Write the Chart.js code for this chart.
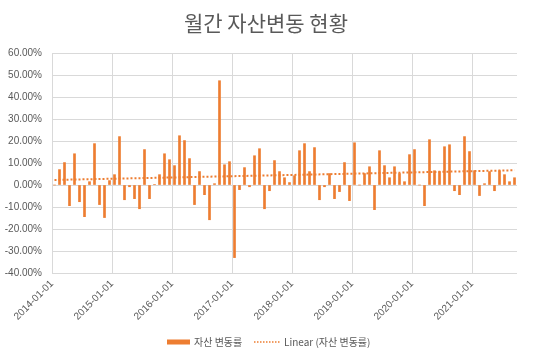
<!DOCTYPE html>
<html>
<head>
<meta charset="utf-8">
<script src="https://cdn.jsdelivr.net/npm/chart.js@4"></script>
<style>
html,body{margin:0;padding:0;background:#fff;}
#wrap{width:534px;height:355px;position:relative;}
</style>
</head>
<body>
<div id="wrap"><canvas id="c" width="534" height="355"></canvas></div>
<script>
const title = '월간 자산변동 현황';
const seriesName = '자산 변동률';
const trendName = 'Linear (자산 변동률)';
const startYear = 2014;
const yearTickLabels = ['2014-01-01','2015-01-01','2016-01-01','2017-01-01','2018-01-01','2019-01-01','2020-01-01','2021-01-01'];
const yTickValues = [-40,-30,-20,-10,0,10,20,30,40,50,60];
// monthly change (%) from 2014-01 to 2021-09
const values2014 = [0, 7.0, 10.2, -9.4, 14.2, -7.6, -14.4, 1.5, 18.8, -8.9, -14.8, 2.0];
const values2015 = [4.7, 22.0, -6.7, -0.8, -6.2, -10.8, 16.1, -6.2, 0.2, 4.7, 14.2, 11.5];
const values2016 = [8.8, 22.4, 20.2, 12.0, -8.9, 6.1, -4.4, -15.8, 0.6, 47.4, 9.2, 10.6];
const values2017 = [-33.0, -2.1, 7.9, -0.8, 13.3, 16.5, -10.8, -2.6, 11.1, 6.1, 3.3, 1.1];
const values2018 = [4.2, 15.6, 18.8, 6.1, 17.0, -6.7, -0.8, 5.2, -6.2, -3.0, 10.2, -7.1];
const values2019 = [19.2, 0, 5.2, 8.3, -11.2, 15.6, 8.8, 3.3, 8.3, 5.2, 1.5, 13.8];
const values2020 = [16.1, 0, -9.4, 20.6, 6.5, 6.1, 17.4, 18.3, -2.6, -4.4, 22.0, 15.2];
const values2021 = [6.5, -4.8, 0.6, 6.1, -2.6, 6.5, 4.7, 1.5, 3.3];

const values = [].concat(values2014, values2015, values2016, values2017, values2018, values2019, values2020, values2021);
const barPoints = values.map((v, i) => ({x: i + 0.5, y: v}));

// least-squares linear trend over the series
const n = values.length;
let sx = 0, sy = 0, sxx = 0, sxy = 0;
values.forEach((v, i) => { const x = i + 0.5; sx += x; sy += v; sxx += x * x; sxy += x * v; });
const slope = (n * sxy - sx * sy) / (n * sxx - sx * sx);
const intercept = (sy - slope * sx) / n;
const trendPoints = [0.5, n - 0.5].map(x => ({x: x, y: intercept + slope * x}));

const ORANGE = '#ED7D31';
const TXT = '#595959';
const GRID = '#D9D9D9';
const FONT = "'Liberation Sans', 'Noto Sans CJK KR', sans-serif";
const KFONT = "'Noto Sans CJK KR', 'Liberation Sans', sans-serif";

const decor = {
  id: 'decor',
  afterDraw(chart) {
    const ctx = chart.ctx;
    ctx.save();
    ctx.fillStyle = TXT;
    ctx.font = "21px " + KFONT;
    ctx.textAlign = 'center';
    ctx.textBaseline = 'middle';
    ctx.fillText(title, 266, 23);
    // legend
    ctx.font = "10px " + KFONT;
    ctx.textAlign = 'left';
    ctx.fillStyle = ORANGE;
    ctx.fillRect(167, 339.5, 23, 5);
    ctx.fillStyle = TXT;
    ctx.fillText(seriesName, 194, 342);
    ctx.strokeStyle = ORANGE;
    ctx.lineWidth = 1.5;
    ctx.setLineDash([1.5, 1.5]);
    ctx.beginPath();
    ctx.moveTo(254, 342);
    ctx.lineTo(281, 342);
    ctx.stroke();
    ctx.setLineDash([]);
    ctx.fillText(trendName, 284, 342);
    ctx.restore();
  }
};

new Chart(document.getElementById('c'), {
  data: {
    datasets: [
      {
        type: 'bar',
        label: seriesName,
        data: barPoints,
        backgroundColor: ORANGE,
        barThickness: 2,
        order: 2
      },
      {
        type: 'line',
        label: trendName,
        data: trendPoints,
        borderColor: ORANGE,
        borderWidth: 2,
        borderDash: [2, 2],
        pointRadius: 0,
        fill: false,
        order: 1
      }
    ]
  },
  options: {
    responsive: false,
    animation: false,
    layout: {padding: {top: 53, right: 17, left: 0, bottom: 0}},
    plugins: {legend: {display: false}, title: {display: false}, tooltip: {enabled: false}},
    scales: {
      x: {
        type: 'linear',
        min: 0,
        max: n,
        offset: false,
        afterBuildTicks(scale) { scale.ticks = yearTickLabels.map((l, i) => ({value: i * 12})); },
        afterFit(scale) { scale.height = 82; },
        ticks: {
          autoSkip: false,
          maxRotation: 45,
          minRotation: 45,
          padding: 5,
          color: TXT,
          font: {family: FONT, size: 10},
          callback: (v, i) => yearTickLabels[i]
        },
        grid: {color: GRID, lineWidth: 1, drawTicks: false, offset: false},
        border: {display: false}
      },
      y: {
        min: -40,
        max: 60,
        afterBuildTicks(scale) { scale.ticks = yTickValues.map(v => ({value: v})); },
        afterFit(scale) { scale.width = 52; },
        ticks: {
          padding: 10,
          color: TXT,
          font: {family: FONT, size: 10},
          callback: v => v.toFixed(2) + '%'
        },
        grid: {color: GRID, lineWidth: 1, drawTicks: false},
        border: {display: false}
      }
    }
  },
  plugins: [decor]
});
</script>
</body>
</html>
